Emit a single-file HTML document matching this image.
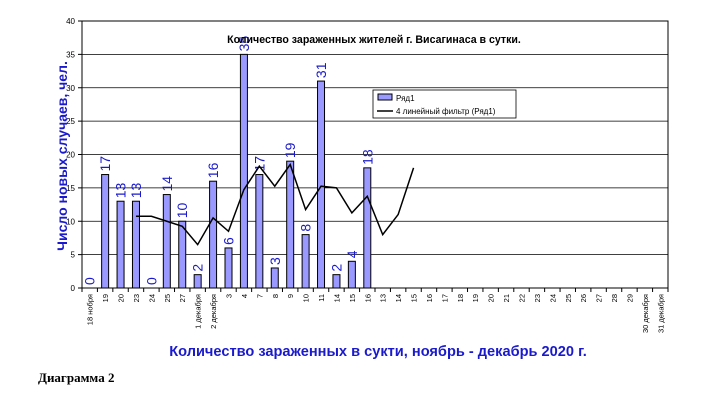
<!DOCTYPE html>
<html><head><meta charset="utf-8"><style>
body{margin:0;background:#fff;width:704px;height:407px;overflow:hidden}
svg{position:absolute;left:0;top:0}
</style></head><body>
<svg id="s" width="704" height="407" xmlns="http://www.w3.org/2000/svg" font-family="Liberation Sans, DejaVu Sans, sans-serif"></svg>
<script>
const s=document.getElementById('s');
let h='';
const X0=82,X1=668,Y0=288,Y1=21,n=38,cw=(X1-X0)/n,u=(Y0-Y1)/40;
const y=v=>Y0-v*u, xc=i=>X0+(i+0.5)*cw;
for(let v=5;v<=40;v+=5){h+=`<line x1="${X0}" x2="${X1}" y1="${y(v)}" y2="${y(v)}" stroke="#000" stroke-width="0.8"/>`;}
h+=`<rect x="${X0}" y="${Y1}" width="${X1-X0}" height="${Y0-Y1}" fill="none" stroke="#000" stroke-width="1"/>`;
for(let v=0;v<=40;v+=5){h+=`<line x1="${X0-4}" x2="${X0}" y1="${y(v)}" y2="${y(v)}" stroke="#000"/><text x="${X0-7}" y="${y(v)+3}" font-size="8" text-anchor="end">${v}</text>`;}
const cats=['18 нобря','19','20','23','24','25','27','1 декабря','2 декабря','3','4','7','8','9','10','11','14','15','16','13','14','15','16','17','18','19','20','21','22','23','24','25','26','27','28','29','30 декабря','31 декабря'];
for(let i=0;i<=n;i++){h+=`<line x1="${X0+i*cw}" x2="${X0+i*cw}" y1="${Y0}" y2="${Y0+4}" stroke="#000"/>`;}
cats.forEach((c,i)=>{h+=`<text transform="translate(${xc(i)+3},${Y0+6}) rotate(-90)" font-size="7.5" text-anchor="end">${c}</text>`;});
const vals=[0,17,13,13,0,14,10,2,16,6,35,17,3,19,8,31,2,4,18];
vals.forEach((v,i)=>{const x=xc(i);if(v>0)h+=`<rect x="${x-3.5}" y="${y(v)}" width="7" height="${v*u}" fill="#9999ff" stroke="#000" stroke-width="1"/>`;
h+=`<text transform="translate(${x+5},${y(v)-3}) rotate(-90)" font-size="14" fill="#1a1acc">${v}</text>`;});
const lv=[10.75,10.75,10,9.25,6.5,10.5,8.5,14.75,18.25,15.25,18.5,11.75,15.25,15,11.25,13.75,8,11,18];
h+=`<polyline fill="none" stroke="#000" stroke-width="1.5" points="${lv.map((v,k)=>xc(k+3)+','+y(v)).join(' ')}"/>`;
h+=`<text x="374" y="43" font-size="10.6" font-weight="bold" text-anchor="middle">Количество зараженных жителей г. Висагинаса в сутки.</text>`;
h+=`<rect x="373" y="90" width="143" height="28" fill="#fff" stroke="#000" stroke-width="0.8"/>`;
h+=`<rect x="378" y="94" width="14" height="6" fill="#9999ff" stroke="#000"/><text x="396" y="101" font-size="8">Ряд1</text>`;
h+=`<line x1="377" x2="393" y1="111" y2="111" stroke="#000" stroke-width="1.5"/><text x="396" y="114" font-size="8">4 линейный фильтр (Ряд1)</text>`;
h+=`<text transform="translate(67,156) rotate(-90)" font-size="14" font-weight="bold" fill="#1a1acc" text-anchor="middle">Число новых случаев, чел.</text>`;
h+=`<text x="378" y="356" font-size="14.6" font-weight="bold" fill="#1a1acc" text-anchor="middle">Количество зараженных в сукти, ноябрь -  декабрь 2020 г.</text>`;
h+=`<text x="38" y="382" font-size="13" font-weight="bold" font-family="Liberation Serif, serif">Диаграмма 2</text>`;
s.innerHTML=h;
</script>
</body></html>
